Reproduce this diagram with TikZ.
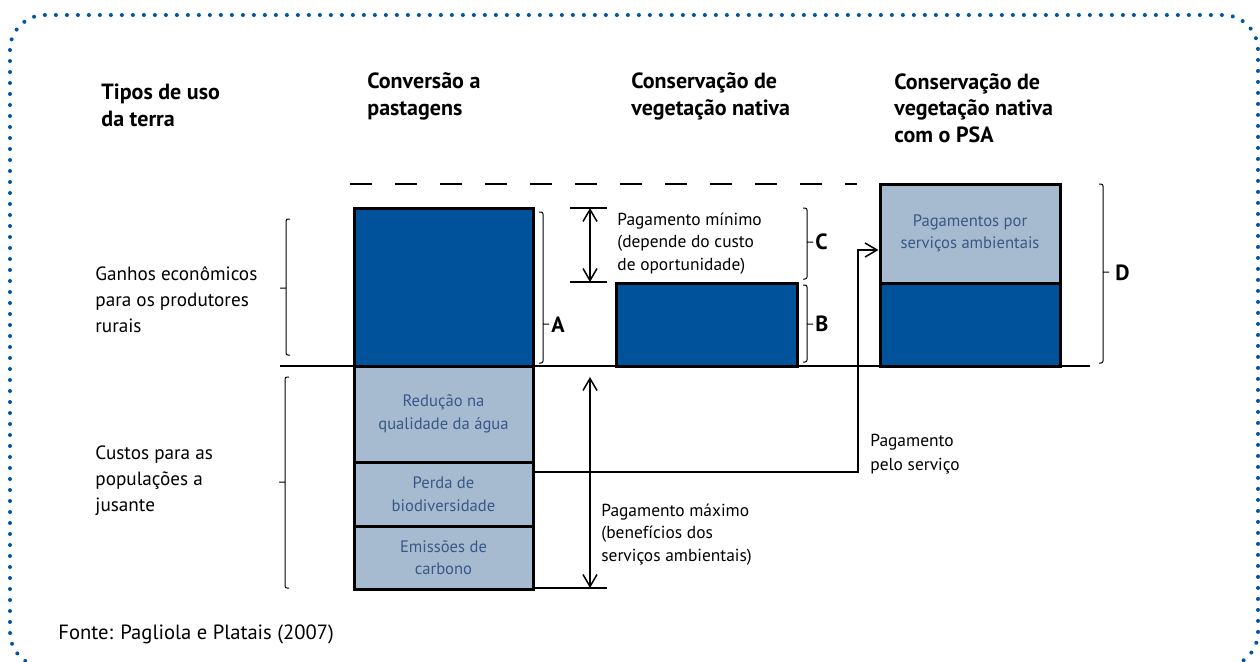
\documentclass[tikz,border=0pt]{standalone}
\usepackage{fontspec}
\setmainfont{PT Sans}
\usetikzlibrary{arrows.meta}
\definecolor{borderblue}{RGB}{0,84,160}
\definecolor{darkbox}{RGB}{0,82,155}
\definecolor{lightbox}{RGB}{167,187,208}
\definecolor{boxtext}{RGB}{58,88,135}

\begin{document}
\begin{tikzpicture}[x=0.5pt, y=-0.5pt,
  every node/.style={inner sep=0pt},
  txt/.style={align=left, anchor=base west, font=\fontsize{9.6}{13}\selectfont},
  head/.style={txt, font=\fontsize{11}{13.25}\selectfont\bfseries},
  note/.style={txt, font=\fontsize{8.7}{11.25}\selectfont},
  bar/.style={draw=black, line width=1.5pt, align=center, text=boxtext, font=\fontsize{8.3}{11.25}\selectfont},
  darkbar/.style={bar, fill=darkbox},
  lightbar/.style={bar, fill=lightbox},
  brk/.style={line width=0.5pt, rounded corners=1pt},
  thinline/.style={line width=0.75pt},
  barb/.style={-{Straight Barb[length=6pt,width=7pt]}},
  dblbarb/.style={{Straight Barb[length=6pt,width=7pt]}-{Straight Barb[length=6pt,width=7pt]}}]
  \useasboundingbox (0,0) rectangle (1260,661);
  \draw[borderblue, line width=2pt, line cap=round, dash pattern=on 0pt off 5.5pt, rounded corners=17.5pt] (10,15) rectangle (1258,667);

  \node[head] at (101,126) (tipos) {Tipos de uso\\da terra};
  \node[head] at (367,115) (conv) {Conversão a\\pastagens};
  \node[head] at (631,115) (cons) {Conservação de\\vegetação nativa};
  \node[head] at (894,142) (conspsa) {Conservação de\\vegetação nativa\\com o PSA};

  \node[txt] at (95,332) (ganhos) {Ganhos econômicos\\para os produtores\\rurais};
  \node[txt] at (95,511) (custos) {Custos para as\\populações a\\jusante};
  \node[txt, font=\fontsize{10.3}{13}\selectfont] at (58,639) (fonte) {Fonte: Pagliola e Platais (2007)};

  \coordinate (base0) at (280,366);
  \coordinate (base1) at (1090,366);
  \draw[thinline] (base0) -- (base1);
  \draw[line width=0.6pt, dash pattern=on 11pt off 11.5pt] (350,184) -- (857,184);

  \node[darkbar, minimum width=89.5pt, minimum height=79pt] at (443.5,287) (pasto) {};
  \node[lightbar, minimum width=89.5pt, minimum height=48pt] at (443.5,414) (agua) {Redução na\\qualidade da água};
  \node[lightbar, minimum width=89.5pt, minimum height=32pt] at (443.5,494) (biodiv) {Perda de\\biodiversidade};
  \node[lightbar, minimum width=89.5pt, minimum height=31.5pt] at (443.5,557.5) (carbono) {Emissões de\\carbono};
  \node[darkbar, minimum width=90.5pt, minimum height=41.5pt] at (706.5,324.5) (nativa) {};
  \node[lightbar, minimum width=90pt, minimum height=49.5pt] at (970,233.5) (psa) {Pagamentos por\\serviços ambientais};
  \node[darkbar, minimum width=90pt, minimum height=41.5pt] at (970,324.5) (nativapsa) {};

  \draw[brk] (290,219) -- (286,219) -- (286,355) -- (290,355) (286,288) -- (280,288);
  \draw[brk] (289,377) -- (285,377) -- (285,588) -- (289,588) (285,482) -- (279,482);
  \draw[brk] (539,212) -- (543,212) -- (543,363) -- (539,363) (543,324) -- (549,324);
  \draw[brk] (803,208) -- (807,208) -- (807,279) -- (803,279) (807,242) -- (813,242);
  \draw[brk] (803,285) -- (807,285) -- (807,362) -- (803,362) (807,324) -- (813,324);
  \draw[brk] (1099,184) -- (1103,184) -- (1103,363) -- (1099,363) (1103,272) -- (1109,272);
  \node[head, anchor=west] at (551,325) (labA) {A};
  \node[head, anchor=west] at (815,324) (labB) {B};
  \node[head, anchor=west] at (815,242) (labC) {C};
  \node[head, anchor=west] at (1115,273) (labD) {D};

  \coordinate (minTop) at (590,208);
  \coordinate (minBot) at (590,282);
  \draw[thinline] (570,208) -- (607,208) (570,282) -- (607,282);
  \draw[thinline, dblbarb] (minTop) -- (minBot);
  \node[note] at (617,270) (minpay) {Pagamento mínimo\\(depende do custo\\de oportunidade)};

  \coordinate (maxTop) at (590,377);
  \coordinate (maxBot) at (590,588);
  \coordinate (maxTick) at (607,588);
  \draw[thinline] (maxTick) -- (maxTick -| carbono.east);
  \draw[thinline, dblbarb] (maxTop) -- (maxBot);
  \node[note] at (601,561) (maxpay) {Pagamento máximo\\(benefícios dos\\serviços ambientais)};

  \coordinate (payStart) at (533,472);
  \coordinate (payTurn) at (858,250);
  \draw[thinline, barb] (payStart) -| (payTurn) -- (payTurn -| psa.west);
  \node[txt, font=\fontsize{8.7}{12}\selectfont] at (870,470) (paylbl) {Pagamento\\pelo serviço};
\end{tikzpicture}
\end{document}
